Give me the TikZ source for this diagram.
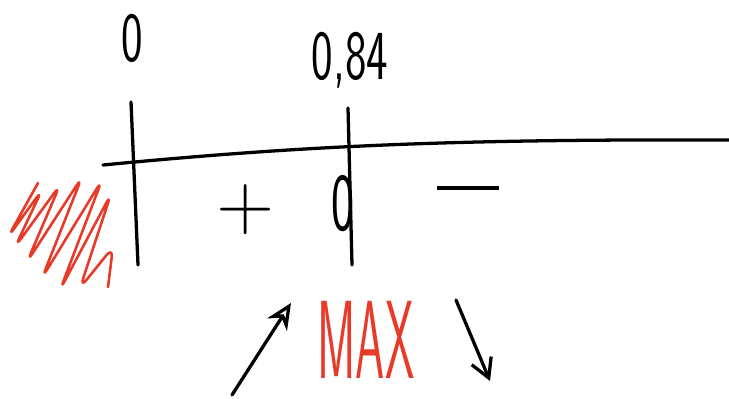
\documentclass[tikz,border=0pt]{standalone}
\usepackage{tikz}
\usetikzlibrary{arrows.meta, positioning, calc}
\usepackage{xcolor}
\definecolor{penred}{RGB}{232,58,40}

\begin{document}
\begin{tikzpicture}[x=0.03cm, y=-0.03cm, line cap=round, line join=round,
  pen/.style={line width=2.8pt, black},
  sign/.style={font=\sffamily\fontsize{60}{64}\selectfont, inner sep=0pt},
  numlabel/.style={font=\sffamily\fontsize{60}{64}\selectfont, inner sep=0pt, xscale=0.65}]
  \useasboundingbox (0,0) rectangle (729,399);
  % axis and ticks
  \coordinate (axl) at (103,165);
  \coordinate (axr) at (729,140);
  \draw[pen] (axl) .. controls (300,146) and (450,139) .. (axr);
  \coordinate (t0a) at (131,102);
  \coordinate (t0b) at (138,265);
  \coordinate (t1a) at (348,108);
  \coordinate (t1b) at (352,265);
  \draw[pen] (t0a) -- (t0b);
  \draw[pen] (t1a) -- (t1b);
  % labels
  \node[numlabel] (lzero) at (132,38) {0};
  \node[numlabel] (lroot) at (350,60) {0,84};
  \node[sign, font=\sffamily\fontsize{68}{72}\selectfont] (plus) at (246,210) {+};
  \node[sign, font=\sffamily\fontsize{70}{74}\selectfont, xscale=0.6] (zsign) at (343,204) {0};
  \node[sign] (minus) at (468,188) {\rule{1.86cm}{2.8pt}};
  \node[font=\sffamily\fontsize{95}{100}\selectfont, text=penred, xscale=0.42, inner sep=0pt] (maxl) at (366,340) {MAX};
  % monotonicity arrows
  \coordinate (upa) at (232,395);
  \coordinate (upb) at (291,303);
  \coordinate (dna) at (456,300);
  \coordinate (dnb) at (490,381);
  \draw[pen, -{Stealth[length=22pt, width=20pt, open]}] (upa) -- (upb);
  \draw[pen, -{Straight Barb[length=16pt, width=18pt]}] (dna) -- (dnb);
  % red hatching left of 0
  \draw[penred, line width=2.2pt, rounded corners=9pt]
    (38,183) -- (8,237) -- (42,190) -- (15,247) -- (60,185) -- (27,262)
    -- (82,177) -- (42,278) -- (102,180) -- (60,290) -- (111,194)
    -- (80,288) -- (113,247) -- (108,287);
\end{tikzpicture}
\end{document}
